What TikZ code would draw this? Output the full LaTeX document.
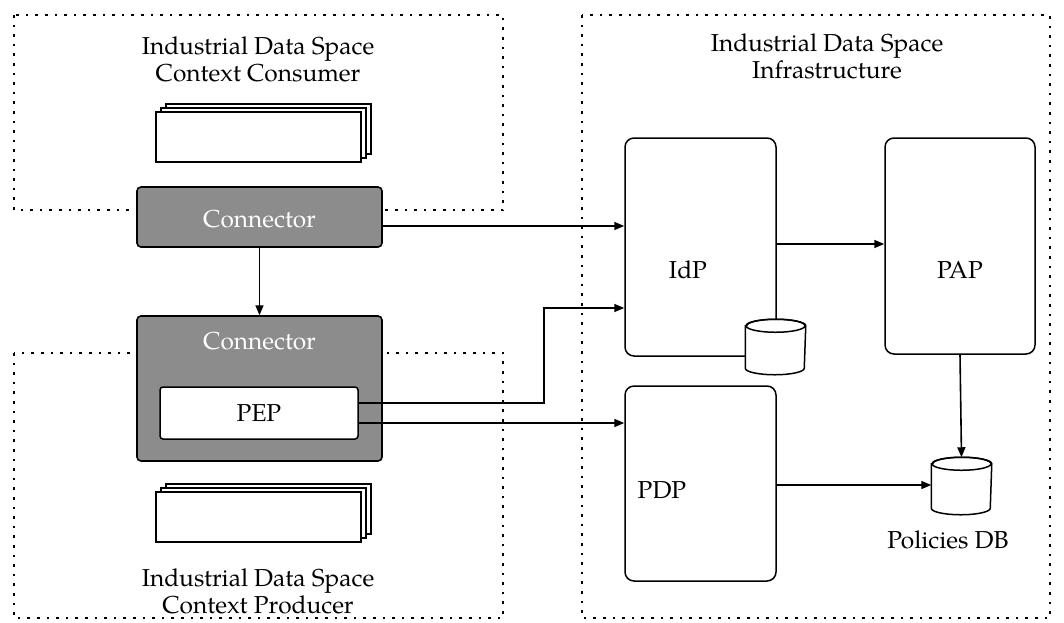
\documentclass[tikz,border=0pt]{standalone}
\usepackage{fontspec}
\setmainfont{TeX Gyre Pagella}
\usetikzlibrary{arrows.meta,calc}
\begin{document}
\begin{tikzpicture}[x=1pt,y=-1pt,
  line width=1.5pt,
  every node/.style={font=\fontsize{24.5}{27}\selectfont, inner sep=0pt},
  zone/.style={line width=2.6pt, dash pattern=on 2.6pt off 7pt},
  conn/.style={draw, fill=black!45, rounded corners=4pt, line width=1.6pt},
  box/.style={draw, fill=white, rounded corners=9pt, line width=1.5pt},
  pep/.style={draw, fill=white, rounded corners=3pt, line width=1.5pt},
  doc/.style={draw, fill=white, line width=1.5pt},
  arr/.style={-{Triangle[length=10pt,width=8pt]}, line width=1.6pt},
  lbl/.style={align=center}
]
\useasboundingbox (0,0) rectangle (1064,622);
% zones
\draw[zone] (14,15) rectangle (503,210);
\draw[zone] (14,353) rectangle (503,618);
\draw[zone] (582,15) rectangle (1050,618);
% titles
\node[lbl] (tcons) at (258,59) {Industrial Data Space\\Context Consumer};
\node[lbl] (tinf) at (827,56) {Industrial Data Space\\Infrastructure};
\node[lbl] (tprod) at (258,591) {Industrial Data Space\\Context Producer};
% documents consumer
\draw[doc] (166,104) rectangle (371,154);
\draw[doc] (161,108) rectangle (366,158);
\draw[doc] (156,112) rectangle (361,162);
% documents producer
\draw[doc] (166,484) rectangle (371,534);
\draw[doc] (161,488) rectangle (366,538);
\draw[doc] (156,492) rectangle (361,542);
% connectors
\path[conn] (137,187) rectangle (382,247);
\node[minimum width=245pt, minimum height=60pt] (c1) at (259.5,217) {};
\node[text=white] (c1t) at (259.5,219) {Connector};
\path[conn] (137,316) rectangle (382,461);
\node[minimum width=245pt, minimum height=145pt] (c2) at (259.5,388.5) {};
\node[text=white] (c2t) at (259.5,341) {Connector};
\node[pep, minimum width=198pt, minimum height=52pt] (pep) at (259,413) {PEP};
% infrastructure boxes
\node[box, minimum width=151pt, minimum height=218pt] (idp) at (700.5,247) {};
\node (idpt) at (688,270) {IdP};
\node[box, minimum width=150pt, minimum height=216pt] (pap) at (960,246) {};
\node (papt) at (960,270) {PAP};
\node[box, minimum width=151pt, minimum height=195pt] (pdp) at (700.5,483.5) {};
\node (pdpt) at (662,490) {PDP};
% cylinders
\node[minimum width=59pt, minimum height=54pt] (idb) at (775.5,347) {};
\draw[fill=white] (idb.north west) ++(0,6.5) -- ($(idb.south west)+(0,-6.5)$)
  arc[start angle=180,end angle=360,x radius=29.5pt,y radius=6.5pt]
  -- ($(idb.north east)+(0,6.5)$)
  arc[start angle=0,end angle=180,x radius=29.5pt,y radius=6.5pt] -- cycle;
\draw ($(idb.north)+(0,6.5)$) ellipse[x radius=29.5pt,y radius=6.5pt];
\node[minimum width=59pt, minimum height=56pt] (pdb) at (961.5,486) {};
\draw[fill=white] (pdb.north west) ++(0,6.5) -- ($(pdb.south west)+(0,-6.5)$)
  arc[start angle=180,end angle=360,x radius=29.5pt,y radius=6.5pt]
  -- ($(pdb.north east)+(0,6.5)$)
  arc[start angle=0,end angle=180,x radius=29.5pt,y radius=6.5pt] -- cycle;
\draw ($(pdb.north)+(0,6.5)$) ellipse[x radius=29.5pt,y radius=6.5pt];
\node (pdbt) at (948,540) {Policies DB};
% arrows
\draw[arr] (c1.east |- 0,226) -- (idp.west |- 0,226);
\draw[arr] (c1.south) -- (c2.north);
\draw[arr] (idp.east |- 0,244) -- (pap.west |- 0,244);
\draw[arr] (pap.south) -- (pdb.north);
\draw[arr] (pdp.east |- 0,485) -- (pdb.west |- 0,485);
\draw[arr] (pep.east |- 0,403) -- (544,403) -- (544,308) -- (idp.west |- 0,308);
\draw[arr] (pep.east |- 0,423) -- (pdp.west |- 0,423);
\end{tikzpicture}
\end{document}
